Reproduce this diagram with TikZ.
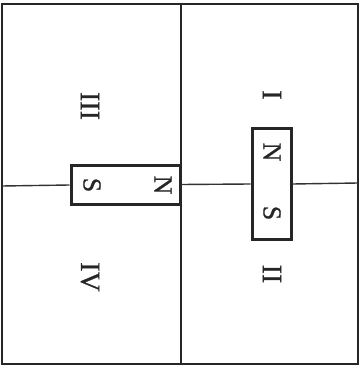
\documentclass[tikz,border=0pt]{standalone}
\usepackage{fontspec}
\setmainfont{Liberation Serif}
\newfontfamily\scanfont{Liberation Serif}[FakeBold=0.8]
\begin{document}
\begin{tikzpicture}[
  x=1pt, y=-1pt,
  frame/.style={draw=black!85, line width=2pt},
  axis/.style={draw=black!80, line width=1.4pt},
  magnet/.style={draw=black!85, line width=3pt, inner sep=0pt},
  pole/.style={font=\scanfont\fontsize{26}{30}\selectfont, text=black!85, rotate=-90, inner sep=0pt},
  zone/.style={font=\scanfont\fontsize{28}{32}\selectfont, text=black!85, rotate=-90, inner sep=0pt},
]
\useasboundingbox (0,0) rectangle (363,366);

% outer frame, split in two by the vertical line
\coordinate (tl) at (2,4);
\coordinate (br) at (358,364);
\coordinate (mt) at (181,4);
\coordinate (mb) at (181,364);
\draw[frame] (tl) rectangle (br);
\draw[frame] (mt) -- (mb);

% magnets
\node[magnet, minimum width=109pt, minimum height=39pt] (left) at (125.5,185) {};
\node[magnet, minimum width=39pt, minimum height=110pt] (right) at (271.5,184) {};

% poles
\node[pole] (ls) at (92,185) {S};
\node[pole] (ln) at (163,185) {N};
\node[pole] (rn) at (272,152) {N};
\node[pole] (rs) at (272,213) {S};

% horizontal line through both magnets
\coordinate (hl) at (2,186);
\coordinate (hm) at (181,184.5);
\coordinate (hr) at (358,183);
\draw[axis] (hl) -- (left.west);
\draw[axis] (hm) -- (right.west);
\draw[axis] (right.east) -- (hr);

% quarters
\node[zone] (q1) at (272,95) {I};
\node[zone] (q2) at (272,274) {II};
\node[zone] (q3) at (90,106) {III};
\node[zone] (q4) at (90,277) {IV};

\end{tikzpicture}
\end{document}
